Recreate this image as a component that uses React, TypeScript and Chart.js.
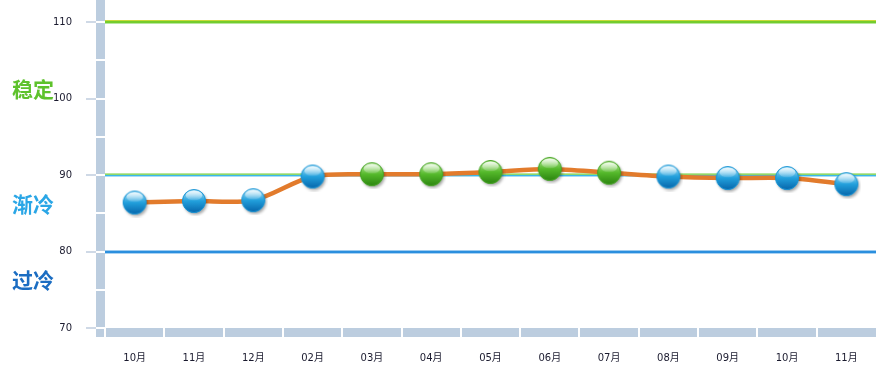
import React, { useEffect, useRef } from "react";
import { Chart, registerables } from "chart.js";

Chart.register(...registerables);

const categories = ["10月", "11月", "12月", "02月", "03月", "04月", "05月", "06月", "07月", "08月", "09月", "10月", "11月"];
const values = [86.4, 86.6, 86.7, 89.8, 90.1, 90.1, 90.4, 90.8, 90.3, 89.8, 89.6, 89.6, 88.8];
const yTicks = [70, 80, 90, 100, 110];
const bandStep = 5;
const threshold = 90;
const refLines = [
  { value: 110, kind: "green" },
  { value: 90, kind: "greenblue" },
  { value: 80, kind: "blue" },
];
const zoneLabels = [
  { text: "稳定", value: 101.3, color: "#5ec22c" },
  { text: "渐冷", value: 86.2, color: "#2aa6e6" },
  { text: "过冷", value: 76.3, color: "#1b6dc2" },
];

const FONT = "'DejaVu Sans', 'Noto Sans CJK SC', sans-serif";

function makeSphere(top: string, mid: string, bottom: string, edge: string) {
  const s = 30;
  const c = document.createElement("canvas");
  c.width = s;
  c.height = s;
  const g = c.getContext("2d")!;
  const cx = 15, cy = 15, r = 11.5;
  g.save();
  g.shadowColor = "rgba(0,0,0,0.35)";
  g.shadowBlur = 3;
  g.shadowOffsetX = 1.5;
  g.shadowOffsetY = 2;
  g.beginPath();
  g.arc(cx, cy, r, 0, Math.PI * 2);
  g.fillStyle = mid;
  g.fill();
  g.restore();
  const lg = g.createLinearGradient(0, cy - r, 0, cy + r);
  lg.addColorStop(0, top);
  lg.addColorStop(0.5, mid);
  lg.addColorStop(1, bottom);
  g.beginPath();
  g.arc(cx, cy, r, 0, Math.PI * 2);
  g.fillStyle = lg;
  g.fill();
  g.lineWidth = 1;
  g.strokeStyle = edge;
  g.stroke();
  const hg = g.createLinearGradient(0, cy - r + 1, 0, cy);
  hg.addColorStop(0, "rgba(255,255,255,0.85)");
  hg.addColorStop(1, "rgba(255,255,255,0.05)");
  g.beginPath();
  g.ellipse(cx, cy - r * 0.48, r * 0.72, r * 0.42, 0, 0, Math.PI * 2);
  g.fillStyle = hg;
  g.fill();
  return c;
}

const decorPlugin = {
  id: "decor",
  beforeDatasetsDraw(chart: any) {
    const ctx = chart.ctx as CanvasRenderingContext2D;
    const ca = chart.chartArea;
    const ys = chart.scales.y;
    const xs = chart.scales.x;
    ctx.save();
    // vertical band
    const bandL = ca.left - 9;
    ctx.fillStyle = "#bccddf";
    ctx.fillRect(bandL, 0, 9, ca.bottom + 9);
    // bottom band
    ctx.fillRect(ca.left, ca.bottom, ca.right - ca.left, 9);
    // white separators on vertical band
    ctx.fillStyle = "#ffffff";
    for (let v = ys.min; v <= ys.max; v += bandStep) {
      const y = Math.round(ys.getPixelForValue(v));
      ctx.fillRect(bandL, y - 1, 9, 2);
    }
    ctx.fillRect(ca.left - 1, ca.bottom - 1, 2, 11);
    // white separators on bottom band
    const n = categories.length;
    for (let i = 1; i < n; i++) {
      const x = Math.round((xs.getPixelForValue(i - 1) + xs.getPixelForValue(i)) / 2);
      ctx.fillRect(x - 1, ca.bottom, 2, 9);
    }
    // tick marks
    ctx.fillStyle = "#cfd9e6";
    for (const v of yTicks) {
      const y = Math.round(ys.getPixelForValue(v));
      ctx.fillRect(bandL - 10, y - 1, 10, 2);
    }
    // reference lines
    const L = ca.left, W = ca.right - ca.left;
    for (const r of refLines) {
      const y = Math.round(ys.getPixelForValue(r.value));
      if (r.kind === "green") {
        ctx.fillStyle = "#c9d83a"; ctx.fillRect(L, y - 2, W, 1);
        ctx.fillStyle = "#74cc2c"; ctx.fillRect(L, y - 1, W, 2);
        ctx.fillStyle = "#b6e6a0"; ctx.fillRect(L, y + 1, W, 1);
      } else if (r.kind === "greenblue") {
        ctx.fillStyle = "#b8e59c"; ctx.fillRect(L, y - 2, W, 1);
        ctx.fillStyle = "#8fd86a"; ctx.fillRect(L, y - 1, W, 1);
        ctx.fillStyle = "#39b8ea"; ctx.fillRect(L, y, W, 1);
        ctx.fillStyle = "#a8dcf5"; ctx.fillRect(L, y + 1, W, 1);
      } else {
        ctx.fillStyle = "#9ccbf0"; ctx.fillRect(L, y - 2, W, 1);
        ctx.fillStyle = "#2b8fde"; ctx.fillRect(L, y - 1, W, 2);
        ctx.fillStyle = "#a9d2f3"; ctx.fillRect(L, y + 1, W, 1);
      }
    }
    // zone labels
    ctx.font = "bold 21px 'Noto Sans CJK SC', sans-serif";
    ctx.textAlign = "left";
    ctx.textBaseline = "middle";
    for (const z of zoneLabels) {
      ctx.fillStyle = z.color;
      ctx.fillText(z.text, 12, ys.getPixelForValue(z.value));
    }
    ctx.restore();
  },
};

export default function App() {
  const ref = useRef<HTMLCanvasElement>(null);
  useEffect(() => {
    const blue = makeSphere("#b2e6fa", "#22a0dc", "#0766ab", "#1a94d4");
    const green = makeSphere("#bdeca0", "#55b92b", "#2c8510", "#47a227");
    const styles = values.map((v) => (v >= threshold ? green : blue));
    const chart = new Chart(ref.current!, {
      type: "line",
      data: {
        labels: categories,
        datasets: [
          {
            data: values,
            borderColor: "#e27b2c",
            borderWidth: 4.5,
            tension: 0.3,
            pointStyle: styles as any,
            pointRadius: 12,
            pointHoverRadius: 12,
            clip: false as any,
          },
        ],
      },
      options: {
        animation: false,
        responsive: false,
        layout: { autoPadding: false, padding: { top: 22, right: 6, left: 0, bottom: 0 } },
        plugins: { legend: { display: false }, tooltip: { enabled: false } },
        scales: {
          x: {
            type: "category",
            offset: true,
            grid: { display: false, drawTicks: false },
            border: { display: false },
            ticks: { font: { size: 10, family: FONT }, color: "#1a1a2e", padding: 24, maxRotation: 0, autoSkip: false },
            afterFit: (s: any) => { s.height = 51; s.paddingLeft = 0; s.paddingRight = 0; },
          },
          y: {
            min: 70,
            max: 110,
            ticks: { stepSize: 10, font: { size: 10, family: FONT }, color: "#1a1a2e", padding: 33 },
            grid: { display: false, drawTicks: false },
            border: { display: false },
            afterFit: (s: any) => { s.width = 105; s.paddingTop = 0; s.paddingBottom = 0; },
          },
        },
      },
      plugins: [decorPlugin],
    });
    return () => chart.destroy();
  }, []);
  return (
    <div style={{ position: "absolute", left: 0, top: 0, width: 882, height: 379, background: "#fff" }}>
      <canvas ref={ref} width={882} height={379} style={{ display: "block" }} />
    </div>
  );
}
